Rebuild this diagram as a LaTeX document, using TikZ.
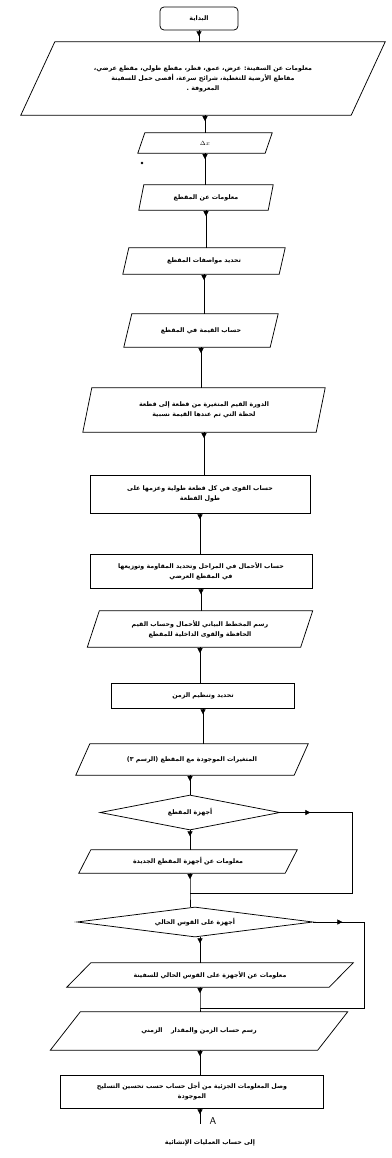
\documentclass[tikz,border=0pt]{standalone}
\usepackage{fontspec}
\newfontfamily\arabicfont[Script=Arabic]{DejaVu Sans}
\TeXXeTstate=1
\usetikzlibrary{shapes.geometric,arrows.meta,decorations.markings}
\newcommand\artext[1]{\beginR #1\endR}
\newcommand\drawpara[2]{\draw[boxline] ([xshift=#2]#1.north west) -- ([xshift=#2]#1.north east) -- ([xshift=-#2]#1.south east) -- ([xshift=-#2]#1.south west) -- cycle;}
\tikzset{
  every node/.style={font=\arabicfont\bfseries\fontsize{6.3}{10}\selectfont},
  boxline/.style={draw=black, line width=0.75pt},
  pnode/.style={inner sep=0pt, align=center},
  rbox/.style={draw=black, line width=0.75pt, inner sep=0pt, align=center},
  dia/.style={diamond, draw=black, aspect=5, inner sep=0pt, line width=0.75pt},
  conn/.style={line width=0.6pt, postaction={decorate},
    decoration={markings, mark=at position 6pt with {\arrow{Triangle[length=5pt,width=5pt]}}}},
  loopconn/.style={line width=0.6pt, postaction={decorate},
    decoration={markings, mark=at position #1 with {\arrow{Triangle[length=5pt,width=5pt]}}}},
}
\begin{document}
\begin{tikzpicture}[x=1pt,y=-1pt]
\useasboundingbox[fill=white] (0,0) rectangle (391,1158);

% start
\node[rbox, rounded corners=4pt, minimum width=78pt, minimum height=23pt] (start) at (199,18.5) {\artext{البداية}};

% box 2
\node[pnode, minimum width=330pt, minimum height=73pt] (n2) at (203,78.5)
  {\artext{معلومات عن السفينة: عرض، عمق، قطر، مقطع طولي، مقطع عرضي،}\\
   \artext{مقاطع الأرضية للتغطية، شرائح سرعة، أقصى حمل للسفينة}\\
   \artext{المعروفة .}};
\drawpara{n2}{17pt}

% box 3
\node[pnode, minimum width=127pt, minimum height=20pt] (n3) at (205,143) {$\Delta x$};
\drawpara{n3}{3.5pt}

\fill (142,163) circle (1.3);

% box 4
\node[pnode, minimum width=129pt, minimum height=25pt] (n4) at (206,197.5) {\artext{معلومات عن المقطع}};
\drawpara{n4}{2.5pt}

% box 5
\node[pnode, minimum width=156pt, minimum height=26pt] (n5) at (204,261) {\artext{تحديد مواصفات المقطع}};
\drawpara{n5}{3pt}

% box 6
\node[pnode, minimum width=146pt, minimum height=33pt] (n6) at (201,330.5) {\artext{حساب القيمة في المقطع}};
\drawpara{n6}{4pt}

% box 7
\node[pnode, minimum width=233pt, minimum height=44pt] (n7) at (204,410)
  {\artext{الدورة القيم المتغيرة من قطعة إلى قطعة}\\
   \artext{لحظة التي تم عندها القيمة نسبية}};
\drawpara{n7}{4.5pt}

% box 8
\node[rbox, minimum width=220pt, minimum height=38pt] (n8) at (200,494)
  {\artext{حساب القوى في كل قطعة طولية وعزمها على}\\
   \artext{طول القطعة}};

% box 9
\node[rbox, minimum width=222pt, minimum height=34pt] (n9) at (201,571)
  {\artext{حساب الأحمال في المراحل وتحديد المقاومة وتوزيعها}\\
   \artext{في المقطع العرضي}};

% box 10
\node[pnode, minimum width=213pt, minimum height=36pt] (n10) at (200,629)
  {\artext{رسم المخطط البياني للأحمال وحساب القيم}\\
   \artext{الحافظة والقوى الداخلية للمقطع}};
\drawpara{n10}{6pt}

% box 11
\node[rbox, minimum width=183pt, minimum height=25pt] (n11) at (203,695.5) {\artext{تحديد وتنظيم الزمن}};

% box 12
\node[pnode, minimum width=218pt, minimum height=31pt] (n12) at (192,759.5) {\artext{المتغيرات الموجودة مع المقطع (الرسم ٣)}};
\drawpara{n12}{7pt}

% decision 1
\node[dia, minimum width=180pt, minimum height=35pt] (d1) at (190,812.5) {\artext{أجهزة المقطع}};

% box 13
\node[pnode, minimum width=206pt, minimum height=23pt] (n13) at (188,861.5) {\artext{معلومات عن أجهزة المقطع الجديدة}};
\drawpara{n13}{6pt}

\coordinate (j1) at (190,893);
\coordinate (r1) at (352,893);

% decision 2
\node[dia, minimum width=236pt, minimum height=30pt] (d2) at (195,922) {\artext{أجهزة على القوس الحالي}};

% box 14
\node[pnode, minimum width=262pt, minimum height=24pt] (n14) at (210,975) {\artext{معلومات عن الأجهزة على القوس الحالي للسفينة}};
\drawpara{n14}{12pt}

\coordinate (j2) at (200,1008);
\coordinate (r2) at (364,1008);

% box 15
\node[pnode, minimum width=267pt, minimum height=38pt] (n15) at (199,1031) {\artext{رسم حساب الزمن والمقدار \quad الزمني}};
\drawpara{n15}{15pt}

% box 16
\node[rbox, minimum width=263pt, minimum height=33pt] (n16) at (192,1091.5)
  {\artext{وصل المعلومات الجزئية من أجل حساب حسب تحسين التسليح}\\
   \artext{الموجودة}};

\coordinate (aend) at (200,1124);
\node[font=\sffamily\fontsize{10}{10}\selectfont, anchor=west] (alab) at (206,1121) {A};
\node (final) at (210,1143) {\artext{إلى حساب العمليات الإنشائية}};

% connectors (kept vertical)
\draw[conn] (start.south) -- (start.south |- n2.north);
\draw[conn] (n3.north |- n2.south) -- (n3.north);
\draw[conn] (n3.south) -- (n3.south |- n4.north);
\draw[conn] (n4.south) -- (n4.south |- n5.north);
\draw[conn] (n5.south) -- (n5.south |- n6.north);
\draw[conn] (n6.south) -- (n6.south |- n7.north);
\draw[conn] (n7.south) -- (n7.south |- n8.north);
\draw[conn] (n8.south) -- (n8.south |- n9.north);
\draw[conn] (n9.south) -- (n9.south |- n10.north);
\draw[conn] (n10.south) -- (n10.south |- n11.north);
\draw[conn] (n11.south) -- (n11.south |- n12.north);
\draw[conn] (d1.north |- n12.south) -- (d1.north);
\draw[conn] (d1.south) -- (d1.south |- n13.north);
\draw[loopconn=30pt] (d1.east) -| (r1) -- (j1);
\draw[conn] (n13.south -| j1) -- (j1) -- (j1 |- d2.north);
\draw[conn] (d2.south -| j2) -- (j2 |- n14.north);
\draw[loopconn=29pt] (d2.east) -| (r2) -- (j2);
\draw[conn] (n14.south -| j2) -- (j2) -- (j2 |- n15.north);
\draw[conn] (n15.south -| aend) -- (aend |- n16.north);
\draw[conn] (n16.south -| aend) -- (aend);
\end{tikzpicture}
\end{document}
